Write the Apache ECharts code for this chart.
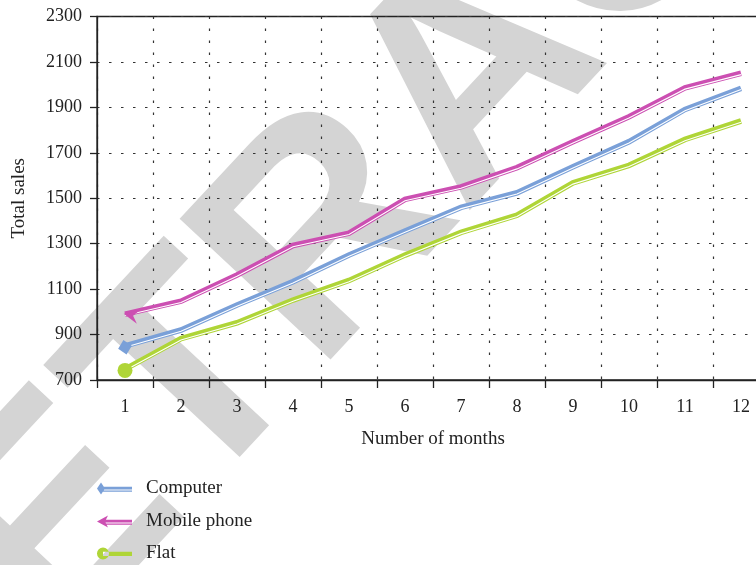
<!DOCTYPE html>
<html>
<head>
<meta charset="utf-8">
<script src="https://cdn.jsdelivr.net/npm/echarts@6/dist/echarts.min.js"></script>
<style>
  html, body { margin: 0; padding: 0; background: #ffffff; }
  #chart { width: 756px; height: 565px; }
</style>
</head>
<body>
<div id="chart"></div>
<script>
// Monthly cumulative sales for three product lines
const months = ['1', '2', '3', '4', '5', '6', '7', '8', '9', '10', '11', '12'];
const computer = [850, 920, 1030, 1133, 1250, 1356, 1460, 1524, 1639, 1749, 1891, 1984];
const mobilePhone = [990, 1047, 1162, 1292, 1346, 1495, 1550, 1635, 1749, 1859, 1986, 2050];
const flat = [748, 882, 952, 1052, 1138, 1250, 1350, 1425, 1568, 1645, 1759, 1840];
const yMin = 700;
const yMax = 2300;
const yStep = 200;

const SERIF = '"Liberation Serif", "Times New Roman", serif';
const INK = '#222222';
const COLORS = { computer: '#7aa0d8', mobile: '#cc4fb2', flat: '#afd537' };

// Legend icons: start marker followed by a double stroke
const ICONS = {
  computer: 'path://M0,6 L4,0 L8,6 L4,12 Z M4,4.2 L35,4.2 L35,7 L4,7 Z M4,8 L35,8 L35,9.2 L4,9.2 Z',
  mobile: 'path://M0,6 L11,0 L8,6 L11,12 Z M7,4.2 L35,4.2 L35,7 L7,7 Z M7,8 L35,8 L35,9.2 L7,9.2 Z',
  flat: 'path://M0,6 A6,6 0 1,0 12,6 A6,6 0 1,0 0,6 Z M6,4.2 L35,4.2 L35,8.4 L6,8.4 Z'
};

// Plot area: 12 month bands of 56px; the last band runs past the right edge
const gridBase = { left: 97, width: 672, top: 16.5, bottom: 185, outerBoundsMode: 'none', containLabel: false };

function mainLine(name, values, color) {
  return {
    name: name,
    type: 'line',
    xAxisIndex: 0,
    yAxisIndex: 0,
    data: values,
    showSymbol: false,
    symbol: 'none',
    itemStyle: { color: color },
    lineStyle: { color: color, width: 5.6, join: 'miter' },
    silent: true,
    z: 3
  };
}

// White inner stroke, drawn on a grid shifted down slightly, carrying the start marker
function innerLine(name, values, color, marker) {
  return {
    name: name,
    type: 'line',
    xAxisIndex: 1,
    yAxisIndex: 1,
    data: values.map(function (v, i) {
      if (i !== 0) return { value: v, symbol: 'none' };
      return Object.assign({ value: v }, marker);
    }),
    showSymbol: true,
    symbol: 'none',
    itemStyle: { color: color, borderWidth: 0 },
    lineStyle: { color: '#ffffff', width: 1.1, join: 'miter' },
    silent: true,
    z: 4
  };
}

function legendRow(name, icon, top) {
  return {
    orient: 'vertical',
    left: 97,
    top: top,
    padding: 0,
    itemWidth: 35,
    itemHeight: 12,
    symbolKeepAspect: false,
    selectedMode: false,
    textStyle: { fontFamily: SERIF, fontSize: 19, color: INK, padding: [0, 0, 0, 9] },
    data: [{ name: name, icon: icon }]
  };
}

const chart = echarts.init(document.getElementById('chart'), null, { renderer: 'canvas' });

chart.setOption({
  animation: false,
  backgroundColor: '#ffffff',
  graphic: [{
    type: 'text',
    z: -10,
    x: 478,
    y: 80,
    rotation: 47 * Math.PI / 180,
    silent: true,
    style: {
      text: 'RETRACTED',
      font: 'bold 300px "Liberation Sans", Arial, sans-serif',
      fill: '#d4d4d4',
      textAlign: 'center',
      textVerticalAlign: 'middle'
    }
  }],
  grid: [
    Object.assign({ show: true, borderColor: INK, borderWidth: 1.3, backgroundColor: 'transparent' }, gridBase),
    Object.assign({}, gridBase, { top: gridBase.top + 1.3, bottom: gridBase.bottom - 1.3 })
  ],
  legend: [
    legendRow('Computer', ICONS.computer, 479),
    legendRow('Mobile phone', ICONS.mobile, 512),
    legendRow('Flat', ICONS.flat, 544)
  ],
  xAxis: [{
    type: 'category',
    gridIndex: 0,
    data: months,
    boundaryGap: true,
    name: 'Number of months',
    nameLocation: 'middle',
    nameGap: 50,
    nameTextStyle: { fontFamily: SERIF, fontSize: 19, color: INK },
    axisLine: { lineStyle: { color: INK, width: 1.3 } },
    axisTick: { show: true, length: 8, alignWithLabel: false, lineStyle: { color: INK, width: 1.3 } },
    axisLabel: { fontFamily: SERIF, fontSize: 18, color: INK, margin: 18 },
    splitLine: { show: true, lineStyle: { color: '#333333', width: 1.2, type: [2.5, 9.5] } }
  }, {
    type: 'category',
    gridIndex: 1,
    data: months,
    boundaryGap: true,
    show: false
  }],
  yAxis: [{
    type: 'value',
    gridIndex: 0,
    min: yMin,
    max: yMax,
    interval: yStep,
    name: 'Total sales',
    nameLocation: 'middle',
    nameGap: 68,
    nameTextStyle: { fontFamily: SERIF, fontSize: 19, color: INK },
    axisLine: { show: true, lineStyle: { color: INK, width: 1.3 } },
    axisTick: { show: true, length: 7, lineStyle: { color: INK, width: 1.3 } },
    axisLabel: {
      fontFamily: SERIF, fontSize: 18, color: INK, margin: 15,
      formatter: function (v) { return String(v); }
    },
    splitLine: { show: true, lineStyle: { color: '#333333', width: 1.2, type: [2.5, 9.5] } }
  }, {
    type: 'value',
    gridIndex: 1,
    min: yMin,
    max: yMax,
    interval: yStep,
    show: false,
    splitLine: { show: false }
  }],
  series: [
    mainLine('Computer', computer, COLORS.computer),
    mainLine('Mobile phone', mobilePhone, COLORS.mobile),
    mainLine('Flat', flat, COLORS.flat),
    innerLine('Computer', computer, COLORS.computer, {
      symbol: 'diamond', symbolSize: [14, 15], symbolRotate: 12
    }),
    innerLine('Mobile phone', mobilePhone, COLORS.mobile, {
      symbol: 'path://M0,7 L14,0 L9,7 L14,14 Z', symbolSize: [15, 14], symbolOffset: [6, 0], symbolRotate: -12
    }),
    innerLine('Flat', flat, COLORS.flat, {
      symbol: 'circle', symbolSize: 15
    })
  ]
});
</script>
</body>
</html>
